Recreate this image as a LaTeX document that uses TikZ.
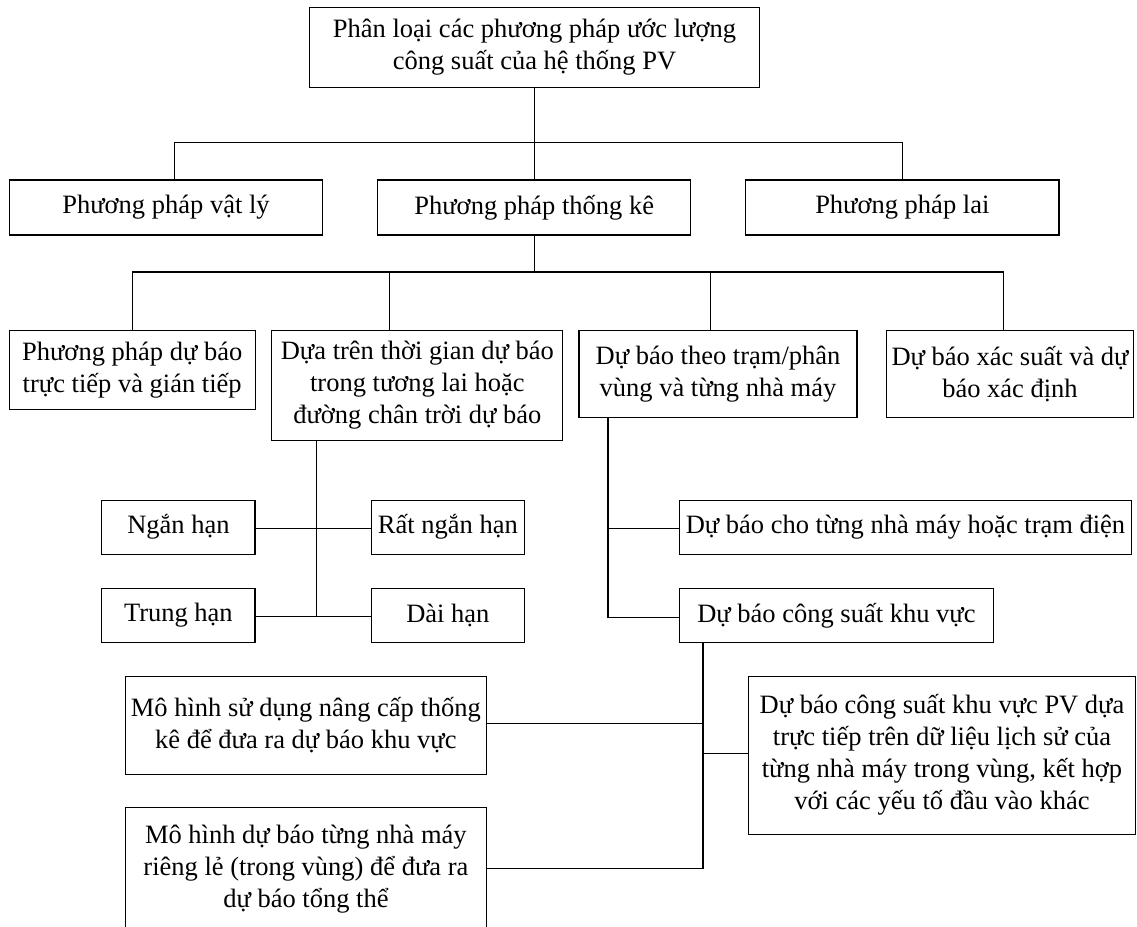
\documentclass[tikz,border=0pt]{standalone}
\usepackage{fontspec}
\setmainfont{Liberation Serif}
\begin{document}
\begin{tikzpicture}[x=1pt,y=-1pt,
  box/.style={draw, line width=1.1pt, inner sep=0pt, align=center,
    font=\fontsize{26.5}{32}\selectfont},
  conn/.style={line width=1.4pt}]
\clip (0,0) rectangle (1137,926);
\fill[white] (0,0) rectangle (1137,926);
% top
\node[box, minimum width=449.8pt, minimum height=80pt] (top) at (534.5,47.3)
  {Phân loại các phương pháp ước lượng\\công suất của hệ thống PV};
% row 2
\node[box, minimum width=313.4pt, minimum height=55pt] (r2a) at (166,207.5) {Phương pháp vật lý};
\node[box, minimum width=313.4pt, minimum height=55pt] (r2b) at (534.2,207.5) {Phương pháp thống kê};
\node[box, minimum width=313.4pt, minimum height=55pt] (r2c) at (902.3,207.5) {Phương pháp lai};
% row 3
\node[box, minimum width=245.7pt, minimum height=79pt] (r3a) at (132.2,370)
  {Phương pháp dự báo\\trực tiếp và gián tiếp};
\node[box, minimum width=291pt, minimum height=110pt] (r3b) at (417.4,385.6)
  {Dựa trên thời gian dự báo\\trong tương lai hoặc\\đường chân trời dự báo};
\node[box, minimum width=278pt, minimum height=86.5pt] (r3c) at (718,374)
  {Dự báo theo trạm/phân\\vùng và từng nhà máy};
\node[box, minimum width=247pt, minimum height=86.5pt] (r3d) at (1010,374)
  {Dự báo xác suất và dự\\báo xác định};
% time horizon
\node[box, minimum width=153.2pt, minimum height=54.3pt] (nh) at (178.4,527.2) {Ngắn hạn};
\node[box, minimum width=153.2pt, minimum height=54.3pt] (rnh) at (447.9,527.2) {Rất ngắn hạn};
\node[box, minimum width=153.2pt, minimum height=54.3pt] (th) at (178.4,615.5) {Trung hạn};
\node[box, minimum width=153.2pt, minimum height=54.3pt] (dh) at (447.9,615.5) {Dài hạn};
% station branch
\node[box, minimum width=451.6pt, minimum height=54.3pt] (dbtung) at (905.5,527.2)
  {Dự báo cho từng nhà máy hoặc trạm điện};
\node[box, minimum width=313.4pt, minimum height=54.3pt] (dbcs) at (836.4,615.5)
  {Dự báo công suất khu vực};
% region branch
\node[box, minimum width=361.1pt, minimum height=97.7pt] (mh1) at (305.9,725.2)
  {Mô hình sử dụng nâng cấp thống\\kê để đưa ra dự báo khu vực};
\node[box, minimum width=361.1pt, minimum height=123.4pt] (mh2) at (305.9,869)
  {Mô hình dự báo từng nhà máy\\riêng lẻ (trong vùng) để đưa ra\\dự báo tổng thể};
\node[box, minimum width=386.7pt, minimum height=157.7pt] (rb) at (942,755.2)
  {Dự báo công suất khu vực PV dựa\\trực tiếp trên dữ liệu lịch sử của\\từng nhà máy trong vùng, kết hợp\\với các yếu tố đầu vào khác};
% connectors level 1
\coordinate (a1) at (534.5,142.7);
\coordinate (a1L) at (174.7,142.7);
\coordinate (a1R) at (902.3,142.7);
\draw[conn] (top.south) -- (a1);
\draw[conn] (r2a.north -| a1L) |- (a1R) -- (r2c.north -| a1R);
\draw[conn] (a1) -- (a1 |- r2b.north);
% connectors level 2
\coordinate (b1) at (534.5,272);
\coordinate (b1L) at (132.6,272);
\coordinate (b1R) at (1003.3,272);
\coordinate (b2) at (389.4,272);
\coordinate (b3) at (710.3,272);
\draw[conn] (r2b.south -| b1) -- (b1);
\draw[conn] (r3a.north -| b1L) |- (b1R) -- (r3d.north -| b1R);
\draw[conn] (b2) -- (b2 |- r3b.north);
\draw[conn] (b3) -- (b3 |- r3c.north);
% time horizon connectors
\coordinate (t1) at (316.4,528.3);
\coordinate (t2) at (316.4,616.7);
\draw[conn] (r3b.south -| t1) -- (t2);
\draw[conn] (nh.east |- t1) -- (rnh.west |- t1);
\draw[conn] (th.east |- t2) -- (dh.west |- t2);
% station connectors
\coordinate (s1) at (607.9,528.3);
\coordinate (s2) at (607.9,617.2);
\draw[conn] (r3c.south -| s1) -- (s2) -- (s2 -| dbcs.west);
\draw[conn] (s1) -- (s1 -| dbtung.west);
% region connectors
\coordinate (g1) at (702.9,723.7);
\coordinate (g2) at (702.9,753.3);
\coordinate (g3) at (702.9,868.7);
\draw[conn] (dbcs.south -| g1) -- (g3) -- (g3 -| mh2.east);
\draw[conn] (g1) -- (g1 -| mh1.east);
\draw[conn] (g2) -- (g2 -| rb.west);
\end{tikzpicture}
\end{document}
